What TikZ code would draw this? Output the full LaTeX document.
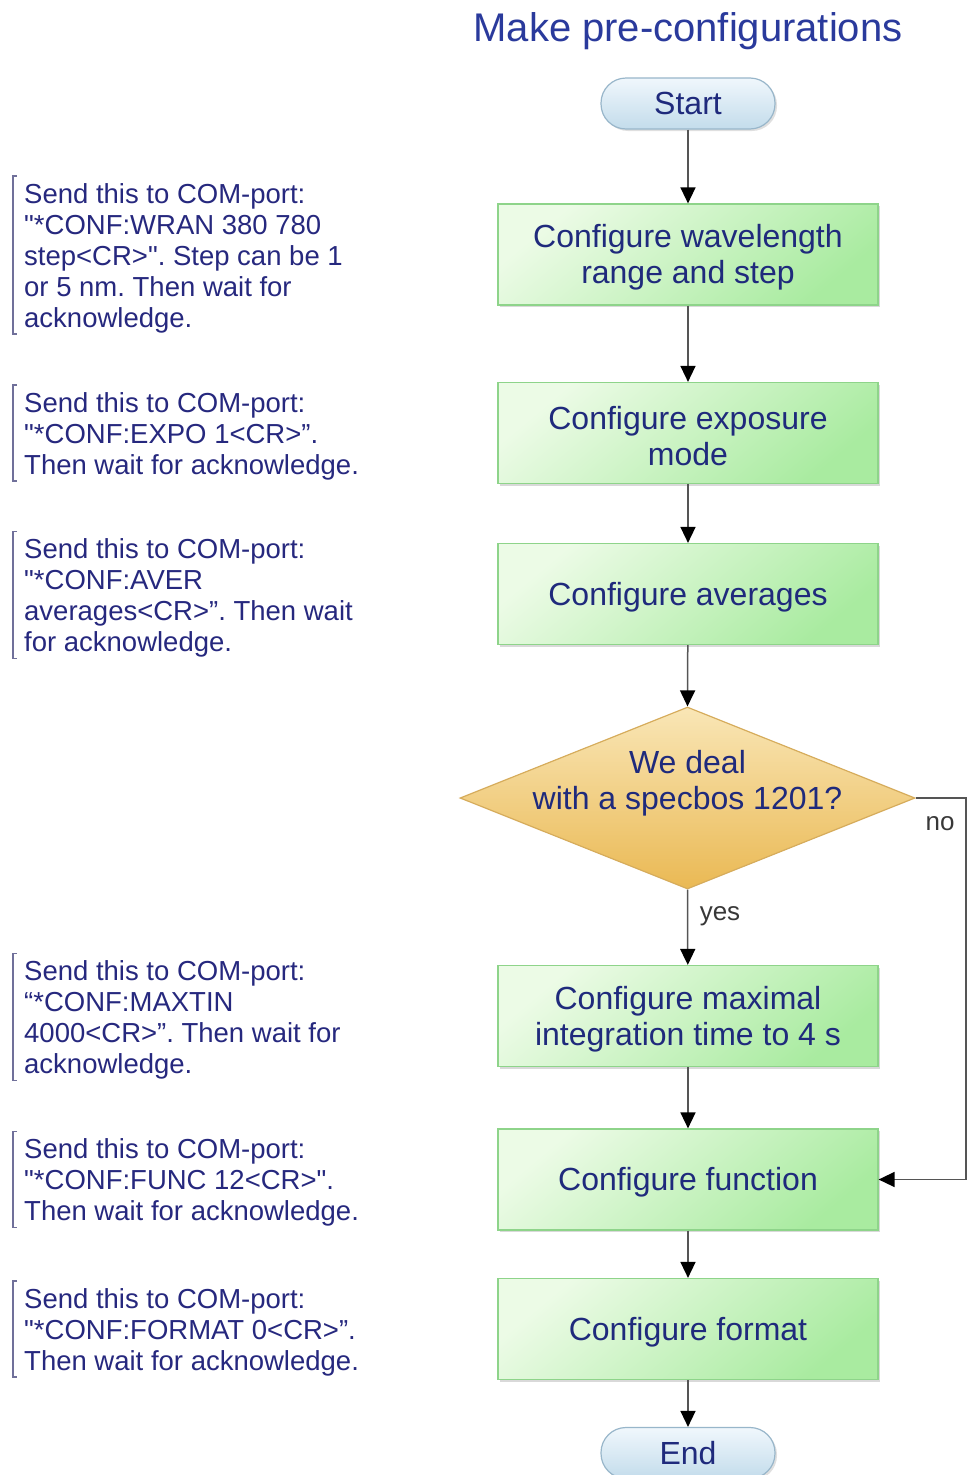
\documentclass[tikz,border=0pt]{standalone}
\usepackage{fontspec}
\setmainfont{Liberation Sans}
\usetikzlibrary{arrows.meta,shapes.geometric,shadows}
\definecolor{boxtext}{HTML}{1F2A7C}
\definecolor{titleblue}{HTML}{2A3A9C}
\definecolor{anntext}{HTML}{26287E}
\definecolor{brkcol}{HTML}{70709A}
\definecolor{linecol}{HTML}{555555}
\definecolor{greenA}{HTML}{ECFBE6}
\definecolor{greenB}{HTML}{A9EBA0}
\definecolor{greenBorder}{HTML}{8ED48A}
\definecolor{blueA}{HTML}{F0F7FC}
\definecolor{blueB}{HTML}{C3DCEB}
\definecolor{blueBorder}{HTML}{98B6CA}
\definecolor{goldA}{HTML}{F9E6B6}
\definecolor{goldB}{HTML}{EAB954}
\definecolor{goldBorder}{HTML}{D6AC5C}
\newcommand{\qd}{\textquotedbl}
\begin{document}
\frenchspacing
\begin{tikzpicture}[x=1pt,y=-1pt,
  boxnode/.style={rectangle, draw=greenBorder, line width=1.2pt,
    top color=greenA, bottom color=greenB, shading angle=40,
    minimum width=380pt, minimum height=101pt, inner sep=0pt,
    drop shadow={shadow xshift=2pt, shadow yshift=-2pt, opacity=0.3}},
  boxlabel/.style={align=center, text=boxtext, font=\fontsize{32}{36}\selectfont,
    inner sep=0pt, yshift=-3pt},
  pill/.style={rectangle, rounded corners=25pt, draw=blueBorder, line width=1.2pt,
    top color=blueA, bottom color=blueB,
    minimum width=174pt, minimum height=51pt, inner sep=0pt,
    text=boxtext, font=\fontsize{32}{36}\selectfont,
    drop shadow={shadow xshift=2pt, shadow yshift=-2pt, opacity=0.25}},
  decnode/.style={diamond, draw=goldBorder, line width=1.2pt,
    top color=goldA, bottom color=goldB,
    minimum width=455pt, minimum height=182pt, aspect=2.5, inner sep=0pt},
  conn/.style={draw=linecol, line width=1.5pt,
    -{Triangle[length=16pt,width=15pt,fill=black,color=black]}},
  lbl/.style={text=black!78, font=\fontsize{26}{30}\selectfont},
  ann/.style={anchor=west, align=left, inner sep=0pt, text=anntext,
    font=\fontsize{27.5}{31}\selectfont},
  brk/.style={draw=brkcol, line width=1.3pt}
]
\useasboundingbox (0,0) rectangle (968,1475);

\node[text=titleblue, font=\fontsize{40}{44}\selectfont] (title) at (688,31) {Make pre-configurations};

\node[pill] (start) at (688,103.5) {Start};
\node[boxnode, label={[boxlabel]center:{Configure wavelength\\range and step}}] (b1) at (688,254.5) {};
\node[boxnode, label={[boxlabel]center:{Configure exposure\\mode}}] (b2) at (688,433) {};
\node[boxnode, label={[boxlabel]center:{Configure averages}}] (b3) at (688,594) {};
\node[decnode, label={[boxlabel, yshift=18pt]center:{We deal\\with a specbos 1201?}}] (dec) at (687.5,798) {};
\node[boxnode, label={[boxlabel]center:{Configure maximal\\integration time to 4 s}}] (b4) at (688,1016) {};
\node[boxnode, label={[boxlabel]center:{Configure function}}] (b5) at (688,1179.5) {};
\node[boxnode, label={[boxlabel]center:{Configure format}}] (b6) at (688,1329) {};
\node[pill] (end) at (688,1453) {End};

\draw[conn] (start) -- (b1);
\draw[conn] (b1) -- (b2);
\draw[conn] (b2) -- (b3);
\draw[conn] (b3) -- (dec.north);
\draw[conn] (dec.south) -- (b4);
\draw[conn] (b4) -- (b5);
\draw[conn] (b5) -- (b6);
\draw[conn] (b6) -- (end);
\coordinate (nr) at (966,798);
\draw[conn] (dec.east) -- (nr) |- (b5.east);

\node[lbl] (yes) at (720,916) {yes};
\node[lbl] (no) at (940,824) {no};

\node[ann] (a1) at (24,258) {Send this to COM-port:\\\qd*CONF:WRAN 380 780\\step<CR>\qd. Step can be 1\\or 5 nm. Then wait for\\acknowledge.};
\node[ann] (a2) at (24,436) {Send this to COM-port:\\\qd*CONF:EXPO 1<CR>”.\\Then wait for acknowledge.};
\node[ann] (a3) at (24,598) {Send this to COM-port:\\\qd*CONF:AVER\\averages<CR>”. Then wait\\for acknowledge.};
\node[ann] (a4) at (24,1020) {Send this to COM-port:\\“*CONF:MAXTIN\\4000<CR>”. Then wait for\\acknowledge.};
\node[ann] (a5) at (24,1182.5) {Send this to COM-port:\\\qd*CONF:FUNC 12<CR>\qd.\\Then wait for acknowledge.};
\node[ann] (a6) at (24,1332) {Send this to COM-port:\\\qd*CONF:FORMAT 0<CR>”.\\Then wait for acknowledge.};

\foreach \a in {a1,a2,a3,a4,a5,a6}{
  \draw[brk] ([xshift=-7pt,yshift=7pt]\a.north west) -- ([xshift=-11pt,yshift=7pt]\a.north west)
    -- ([xshift=-11pt,yshift=-1pt]\a.south west) -- ([xshift=-7pt,yshift=-1pt]\a.south west);
}
\end{tikzpicture}
\end{document}
